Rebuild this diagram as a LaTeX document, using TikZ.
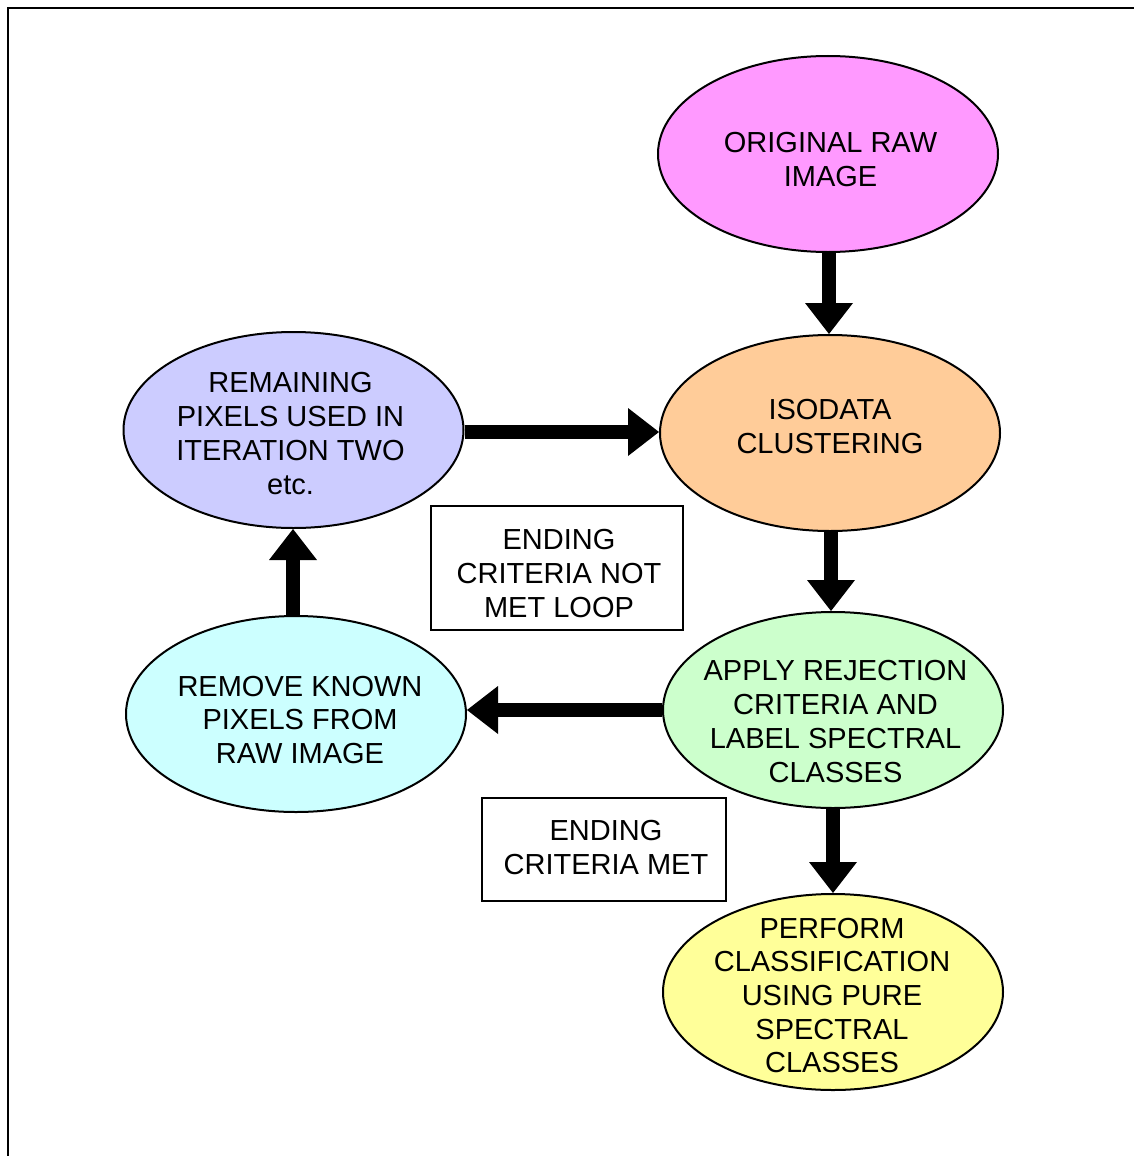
\documentclass[tikz,border=0pt]{standalone}
\usepackage{fontspec}
\setmainfont{Liberation Sans}
\usetikzlibrary{shapes.geometric,arrows.meta}
\definecolor{cpink}{HTML}{FF99FF}
\definecolor{cpeach}{HTML}{FFCC99}
\definecolor{clav}{HTML}{CCCCFF}
\definecolor{ccyan}{HTML}{CCFFFF}
\definecolor{cgreen}{HTML}{CCFFCC}
\definecolor{cyellow}{HTML}{FFFF99}
\begin{document}
\begin{tikzpicture}[x=1pt,y=-1pt,
  ell/.style={ellipse,draw=black,line width=2pt,minimum width=340pt,minimum height=196pt,inner sep=0pt},
  lbl/.style={inner sep=0pt,align=center,font=\fontsize{29}{33.7}\selectfont},
  txtbox/.style={draw=black,line width=1.5pt},
  bigarrow/.style={line width=14pt,-{Triangle[width=48pt,length=31pt,line width=0pt]}}]
\useasboundingbox (0,0) rectangle (1133,1156);
\fill[white] (0,0) rectangle (1133,1156);
\coordinate (fbl) at (7.5,1160);
\coordinate (ftl) at (7.5,8.5);
\coordinate (ftr) at (1140,8.5);
\draw[line width=2pt] (fbl) -- (ftl) -- (ftr);
% ellipses
\node[ell,fill=cpink] (orig) at (828,154) {};
\node[ell,fill=cpeach] (iso) at (830,433) {};
\node[ell,fill=clav] (rem) at (293.5,430) {};
\node[ell,fill=ccyan] (remove) at (296,714) {};
\node[ell,fill=cgreen] (apply) at (833,710) {};
\node[ell,fill=cyellow] (perf) at (833,992) {};
% labels
\node[lbl] (origT) at (830.5,159.5) {ORIGINAL RAW\\IMAGE};
\node[lbl] (isoT) at (830,426.5) {ISODATA\\CLUSTERING};
\node[lbl] (remT) at (290.5,433.5) {REMAINING\\PIXELS USED IN\\ITERATION TWO\\etc.};
\node[lbl] (removeT) at (300,720) {REMOVE KNOWN\\PIXELS FROM\\RAW IMAGE};
\node[lbl] (applyT) at (835.5,721.5) {APPLY REJECTION\\CRITERIA AND\\LABEL SPECTRAL\\CLASSES};
\node[lbl] (perfT) at (832,995.5) {PERFORM\\CLASSIFICATION\\USING PURE\\SPECTRAL\\CLASSES};
% boxes
\node[txtbox,minimum width=252pt,minimum height=124pt] (notmet) at (557,568) {};
\node[txtbox,minimum width=244pt,minimum height=103pt] (met) at (604,849.5) {};
\node[lbl] (notmetT) at (559,573.5) {ENDING\\CRITERIA NOT\\MET LOOP};
\node[lbl] (metT) at (606,847.5) {ENDING\\CRITERIA MET};
% arrows
\draw[bigarrow] (829,0 |- orig.south) -- (829,0 |- iso.north);
\draw[bigarrow] (rem.east |- 0,432) -- (iso.west |- 0,432);
\draw[bigarrow] (831,0 |- iso.south) -- (831,0 |- apply.north);
\draw[bigarrow] (apply.west |- 0,710) -- (remove.east |- 0,710);
\draw[bigarrow] (293,0 |- remove.north) -- (293,0 |- rem.south);
\draw[bigarrow] (833,0 |- apply.south) -- (833,0 |- perf.north);
\end{tikzpicture}
\end{document}
